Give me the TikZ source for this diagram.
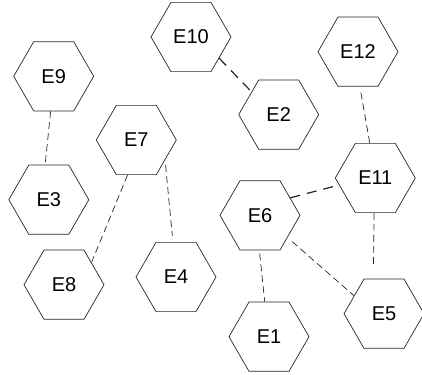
\documentclass[tikz,border=0pt]{standalone}
\usepackage{fontspec}
\setmainfont{Liberation Sans}
\usetikzlibrary{shapes.geometric}
\begin{document}
\begin{tikzpicture}[x=1pt,y=-1pt,
  hexnode/.style={draw=black!85,line width=0.7pt,regular polygon,regular polygon sides=6,
    minimum size=80pt,inner sep=0pt,font=\fontsize{20}{24}\selectfont},
  link/.style={draw=black!85,line width=0.7pt,dash pattern=on 7pt off 4pt},
  boldlink/.style={draw=black!85,line width=1.2pt,dash pattern=on 10pt off 7pt}]
\useasboundingbox (0,0) rectangle (422,374);
\node[hexnode] (E10) at (191,37) {E10};
\node[hexnode] (E2) at (278.7,114.6) {E2};
\node[hexnode] (E9) at (53.7,76.3) {E9};
\node[hexnode] (E7) at (136.3,140) {E7};
\node[hexnode] (E3) at (48.8,199.7) {E3};
\node[hexnode] (E6) at (260,215.3) {E6};
\node[hexnode] (E11) at (375.3,178) {E11};
\node[hexnode] (E12) at (358,51.7) {E12};
\node[hexnode] (E1) at (269,336.7) {E1};
\node[hexnode] (E5) at (384,313.7) {E5};
\node[hexnode] (E8) at (64,284.7) {E8};
\node[hexnode] (E4) at (176,277) {E4};
\draw[link] (E9.-95) -- (E3.96);
\draw[boldlink] (E10.-37) -- (E2.140);
\draw[link,shorten <=6pt] (E12.-87) -- (E11.99);
\draw[link] (E7.-104) -- (E8.39);
\draw[link,shorten <=5pt,shorten >=6pt] (E7.-35) -- (E4.95);
\draw[boldlink,shorten >=6pt] (E6.30) -- (E11.-169);
\draw[link,shorten >=12pt] (E11.-92) -- (E5.107);
\draw[link,shorten <=6pt] (E6.-39) -- (E5.149);
\draw[link,shorten <=3pt] (E6.-91) -- (E1.97);
\end{tikzpicture}
\end{document}
